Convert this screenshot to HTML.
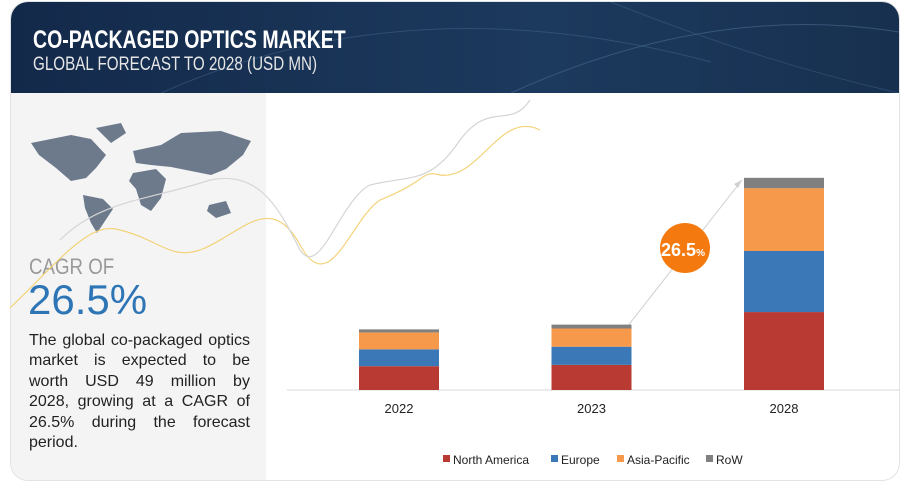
<!DOCTYPE html>
<html><head><meta charset="utf-8"><style>
body{margin:0;width:900px;height:482px;background:#fff;position:relative;overflow:hidden;font-family:"Liberation Sans",sans-serif}
#card{position:absolute;left:10px;top:1px;width:888px;height:478px;border-radius:18px;border:1px solid #e3e3e3;overflow:hidden;background:#fff}
#header{position:absolute;left:0;top:0;width:888px;height:91px;background:linear-gradient(90deg,#13294a,#1c3a5e 60%,#17304f)}
#left{position:absolute;left:0;top:91px;width:255px;height:387px;background:#f4f4f4}
.t1{position:absolute;left:22px;top:24px;color:#fff;font-size:25px;font-weight:bold;transform:scaleX(.78);transform-origin:left;white-space:nowrap}
.t2{position:absolute;left:22px;top:52px;color:#e6e6e6;font-size:19px;transform:scaleX(.8);transform-origin:left;white-space:nowrap}
.cagr{position:absolute;left:18px;top:161px;color:#999;font-size:22px;transform:scaleX(.85);transform-origin:left}
.big{position:absolute;left:17px;top:183px;color:#2e75b6;font-size:42px}
.desc{position:absolute;left:18px;top:238px;width:221px;font-size:16px;line-height:20.4px;color:#222}
.desc div{text-align:justify;text-align-last:justify;white-space:nowrap;display:flex;justify-content:space-between}
</style></head><body>
<div id="card">
<div id="header">
<svg width="888" height="91" style="position:absolute;left:0;top:0">
<path d="M150 91 Q400 -20 700 60" stroke="#3d5f85" stroke-width="1" fill="none" opacity=".6"/>
<path d="M500 91 Q700 0 888 30" stroke="#4a6d92" stroke-width="1" fill="none" opacity=".6"/>
<path d="M600 0 Q750 60 888 91" stroke="#3d5f85" stroke-width="1" fill="none" opacity=".5"/>
</svg>
<div class="t1">CO-PACKAGED OPTICS MARKET</div>
<div class="t2">GLOBAL FORECAST TO 2028 (USD MN)</div>
</div>
<div id="left">
<svg width="255" height="160" style="position:absolute;left:0;top:0">
<g fill="#6d7a8c">
<path d="M20 50 L60 42 L80 46 L95 62 L85 75 L75 85 L60 88 L45 75 L28 62 Z"/>
<path d="M85 35 L110 30 L115 40 L100 50 Z"/>
<path d="M72 102 L92 106 L102 116 L94 128 L86 140 L80 130 L74 115 Z"/>
<path d="M122 80 L145 76 L155 86 L150 105 L140 118 L130 112 L125 96 L118 88 Z"/>
<path d="M122 58 L150 52 L170 40 L210 38 L240 48 L232 62 L215 76 L200 82 L180 78 L160 74 L140 72 L125 70 Z"/>
<path d="M198 112 L215 108 L220 120 L205 125 L196 118 Z"/>
</g>
</svg>
<div class="cagr">CAGR OF</div>
<div class="big">26.5%</div>
<div class="desc">
<div><span>The</span><span>global</span><span>co-packaged</span><span>optics</span></div>
<div><span>market</span><span>is</span><span>expected</span><span>to</span><span>be</span></div>
<div><span>worth</span><span>USD</span><span>49</span><span>million</span><span>by</span></div>
<div><span>2028,</span><span>growing</span><span>at</span><span>a</span><span>CAGR</span><span>of</span></div>
<div><span>26.5%</span><span>during</span><span>the</span><span>forecast</span></div>
<div style="display:block">period.</div>
</div>
</div>
</div>
<svg id="chart" width="900" height="482" style="position:absolute;left:0;top:0">
<path d="M10 308 C60 260 90 220 120 230 C160 240 170 260 200 250 C240 235 270 190 300 245 C330 300 350 220 380 200 C430 180 420 170 440 175 C480 180 500 110 540 130" stroke="#f3d37a" fill="none" stroke-width="1.2"/>
<path d="M60 240 C100 200 150 200 210 180 C260 170 280 210 300 250 C320 280 340 200 370 185 C410 175 430 185 460 140 C490 100 510 130 530 100" stroke="#d5d5d5" fill="none" stroke-width="1.2"/>
<line x1="287" y1="390" x2="900" y2="390" stroke="#d9d9d9"/>
<line x1="627" y1="327" x2="742" y2="180" stroke="#cfcfcf" stroke-width="1"/>
<polygon points="742,180 734,184 738,188" fill="#cfcfcf"/>
<g id="bars"></g>
<circle cx="685" cy="248" r="25" fill="#f47a0f"/>
<text x="683" y="256" text-anchor="middle" fill="#fff" font-size="18" font-weight="bold" font-family="Liberation Sans">26.5<tspan font-size="10">%</tspan></text>
<g id="legend"></g>
</svg>
<script>
const categories=["2022","2023","2028"];
const seriesNames=["North America","Europe","Asia-Pacific","RoW"];
const northAmerica=[5.5,5.8,18.0];
const europe=[3.9,4.2,14.1];
const asiaPacific=[3.9,4.2,14.5];
const row=[0.7,0.9,2.4];
const colors=["#b83a32","#3a78b8","#f7994a","#808080"];
const series=[northAmerica,europe,asiaPacific,row];
const base=390,scale=4.33;
const xCenter=i=>399+i*192.5;
const yScale=v=>v*scale;
const ns="http://www.w3.org/2000/svg";
const g=document.getElementById('bars');
categories.forEach((c,i)=>{
  let acc=0;
  series.forEach((s,j)=>{
    const h=yScale(s[i]);
    const r=document.createElementNS(ns,'rect');
    r.setAttribute('x',xCenter(i)-40);r.setAttribute('width',80);
    r.setAttribute('y',base-yScale(acc)-h);r.setAttribute('height',h);
    r.setAttribute('fill',colors[j]);
    
    
    g.appendChild(r);acc+=s[i];
  });
  const t=document.createElementNS(ns,'text');
  t.setAttribute('x',xCenter(i));t.setAttribute('y',413);t.setAttribute('text-anchor','middle');
  t.setAttribute('font-size','13');t.setAttribute('fill','#222');t.textContent=c;
  
  
  g.appendChild(t);
});
const lg=document.getElementById('legend');
const lx=[443,551,617,706];
seriesNames.forEach((n,j)=>{
  const r=document.createElementNS(ns,'rect');
  r.setAttribute('x',lx[j]);r.setAttribute('y',455);r.setAttribute('width',7);r.setAttribute('height',7);r.setAttribute('fill',colors[j]);
  
  
  lg.appendChild(r);
  const t=document.createElementNS(ns,'text');
  t.setAttribute('x',lx[j]+10);t.setAttribute('y',464);t.setAttribute('font-size','12');t.setAttribute('fill','#222');
  t.textContent=n;
  
  
  lg.appendChild(t);
});
</script>
</body></html>
